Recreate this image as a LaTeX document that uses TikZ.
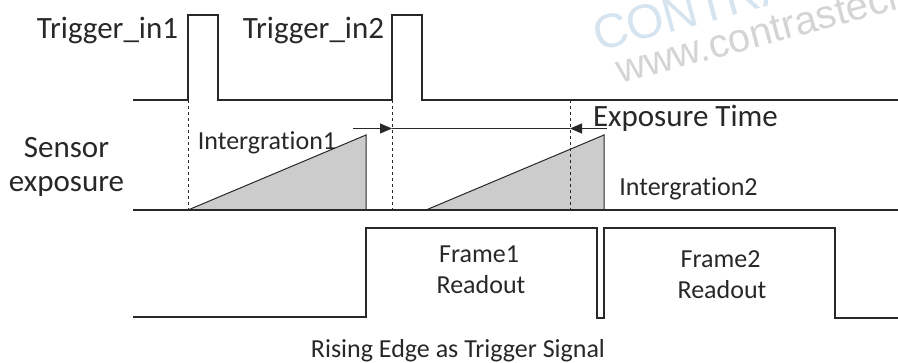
\documentclass[tikz,border=0pt]{standalone}
\usepackage{fontspec}
\setmainfont{Carlito}[Ligatures=NoCommon]
\newfontfamily\wmfont{Liberation Sans}
\usetikzlibrary{arrows.meta}
\definecolor{wmblue}{RGB}{214,228,240}
\definecolor{wmgray}{RGB}{212,212,212}
\definecolor{ink}{RGB}{40,40,40}
\tikzset{
  wave/.style={line width=1.1pt, draw=ink, line join=miter},
  guide/.style={draw=ink, line width=0.8pt, dash pattern=on 3.5pt off 2.5pt},
  ramp/.style={fill=gray!40, draw=ink, line width=1pt},
  meas/.style={draw=ink, line width=1pt},
  measarrow/.style={meas, -{Triangle[length=12pt,width=10pt]}},
  bigtxt/.style={font=\fontsize{31}{34}\selectfont, text=ink, inner sep=0pt, anchor=base},
  midtxt/.style={font=\fontsize{26}{29}\selectfont, text=ink, inner sep=0pt, anchor=base},
  wmbig/.style={font=\wmfont\fontsize{48}{48}\selectfont, text=wmblue, inner sep=0pt, anchor=base west, rotate=15},
  wmsmall/.style={font=\wmfont\fontsize{40}{40}\selectfont, text=wmgray, inner sep=0pt, anchor=base west, rotate=15}
}
\begin{document}
\begin{tikzpicture}[x=1pt,y=-1pt]
\useasboundingbox (0,0) rectangle (898,363);
% watermark
\begin{scope}
\clip (0,0) rectangle (898,363);
\node[wmbig] (wm1) at (598,52) {CONTRASTECH};
\node[wmsmall] (wm2) at (620,84) {www.contrastech.com};
\end{scope}

% key coordinates
\coordinate (t0) at (133,100);
\coordinate (p1a) at (188,100);
\coordinate (p1b) at (218,100);
\coordinate (p2a) at (392,100);
\coordinate (p2b) at (422,100);
\coordinate (tend) at (898,100);
\coordinate (s0) at (133,210);
\coordinate (send) at (898,210);
\coordinate (d1) at (188,210);
\coordinate (d2) at (392,210);
\coordinate (d3t) at (570,100);
\coordinate (d3) at (570,210);

% ramps
\draw[ramp] (188,210) -- (366,135) -- (366,210) -- cycle;
\draw[ramp] (426,210) -- (604,135) -- (604,210) -- cycle;

% trigger waveform
\draw[wave] (t0) -- (p1a) -- (188,15) -- (218,15) -- (p1b) -- (p2a) -- (392,15) -- (422,15) -- (p2b) -- (tend);

% sensor baseline
\draw[wave] (s0) -- (send);

% readout waveform
\draw[wave] (133,317) -- (366,317) -- (366,228) -- (597,228) -- (597,318) -- (604,318) -- (604,228) -- (835,228) -- (835,318) -- (898,318);

% dashed guides
\draw[guide] (p1a) -- (d1);
\draw[guide] (p2a) -- (d2);
\draw[guide] (d3t) -- (d3);

% exposure time measurement
\coordinate (m1s) at (353,128.5);
\coordinate (m1e) at (392,128.5);
\coordinate (m2e) at (570,128.5);
\coordinate (m2s) at (607,128.5);
\draw[measarrow] (m1s) -- (m1e);
\draw[meas] (m1e) -- (m2e);
\draw[measarrow] (m2s) -- (m2e);

% labels
\node[bigtxt] (trig1) at (107.5,39) {Trigger\_in1};
\node[bigtxt] (trig2) at (313.5,39) {Trigger\_in2};
\node[bigtxt] (sens) at (66.5,158) {Sensor};
\node[bigtxt] (expo) at (66.5,192) {exposure};
\node[bigtxt] (etime) at (685.5,127) {Exposure Time};
\node[midtxt] (int1) at (267,150) {Intergration1};
\node[midtxt] (int2) at (688.5,196) {Intergration2};
\node[midtxt] (f1a) at (479,263) {Frame1};
\node[midtxt] (f1b) at (481,294) {Readout};
\node[midtxt] (f2a) at (720.5,268) {Frame2};
\node[midtxt] (f2b) at (722,299) {Readout};
\node[midtxt] (cap) at (458,358) {Rising Edge as Trigger Signal};
\end{tikzpicture}
\end{document}
